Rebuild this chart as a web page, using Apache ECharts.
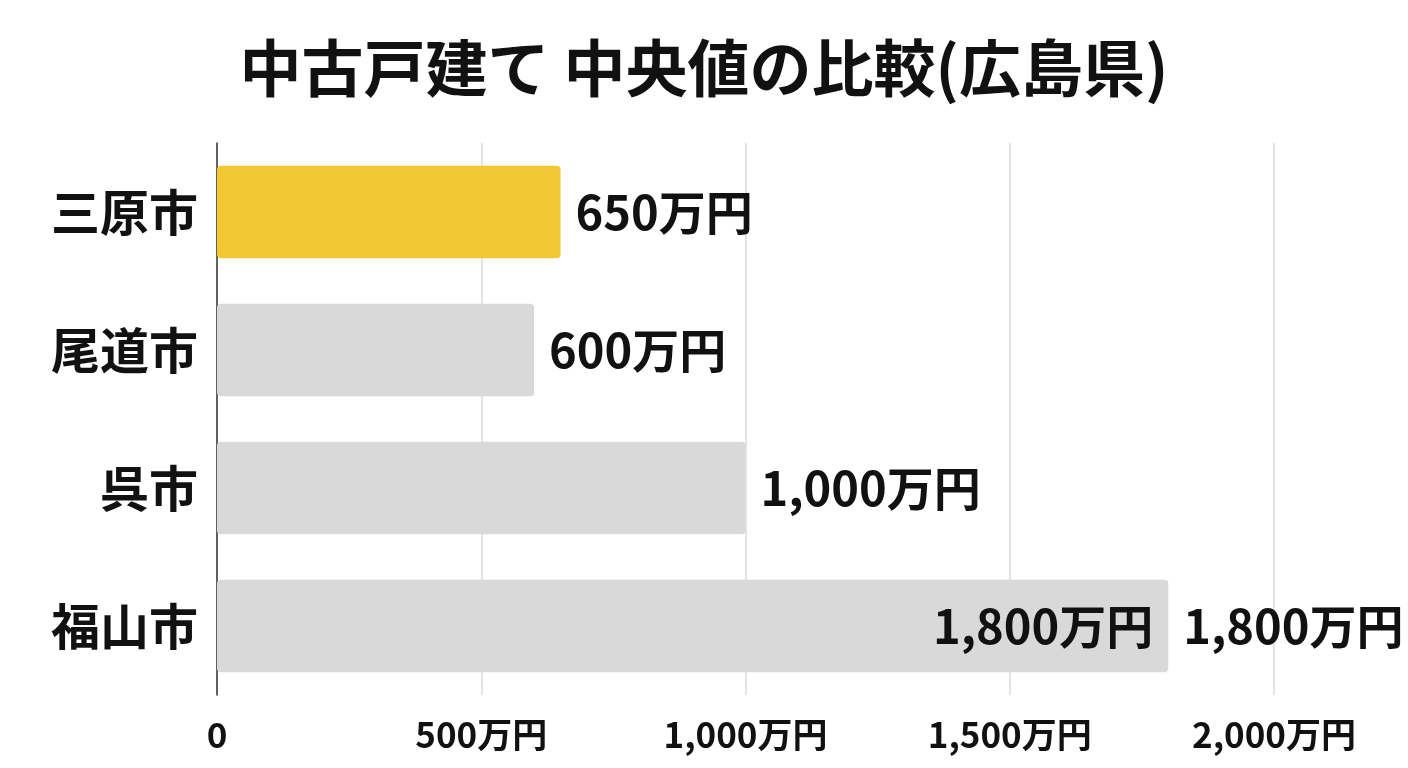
<!DOCTYPE html>
<html>
<head>
<meta charset="utf-8">
<script src="https://cdn.jsdelivr.net/npm/echarts@6/dist/echarts.min.js"></script>
<style>
  html, body { margin: 0; padding: 0; background: #fff; }
  #chart { width: 1408px; height: 768px; }
</style>
</head>
<body>
<div id="chart"></div>
<script>
// データ（単位：万円）
const cities = ['三原市', '尾道市', '呉市', '福山市'];
const medians = [650, 600, 1000, 1800];
const highlightCity = '三原市';
const innerLabelCities = ['福山市'];
const tickValues = [0, 500, 1000, 1500, 2000];

const FONT = '"Noto Sans CJK JP", "Noto Sans", sans-serif';

function yen(v) {
  return v === 0 ? '0' : v.toLocaleString('en-US') + '万円';
}

const chart = echarts.init(document.getElementById('chart'));

const option = {
  backgroundColor: '#ffffff',
  animation: false,
  title: {
    text: '中古戸建て 中央値の比較(広島県)',
    left: 'center',
    top: 32,
    textStyle: { fontFamily: FONT, fontSize: 62, fontWeight: 'bold', color: '#111' }
  },
  grid: { left: 217, right: 134, top: 143, bottom: 73 },
  xAxis: {
    type: 'value',
    min: tickValues[0],
    max: tickValues[tickValues.length - 1],
    interval: tickValues[1] - tickValues[0],
    axisLine: { show: false },
    axisTick: { show: false },
    splitLine: { show: true, lineStyle: { color: '#dcdcdc', width: 1.5 } },
    axisLabel: {
      formatter: yen,
      margin: 22,
      fontFamily: FONT,
      fontSize: 35,
      fontWeight: 'bold',
      color: '#111'
    }
  },
  yAxis: {
    type: 'category',
    data: cities,
    inverse: true,
    axisLine: { show: true, lineStyle: { color: '#333', width: 1.5 } },
    axisTick: { show: false },
    axisLabel: {
      margin: 19,
      fontFamily: FONT,
      fontSize: 49,
      fontWeight: 'bold',
      color: '#111'
    }
  },
  series: [
    {
      type: 'bar',
      barWidth: '67%',
      data: medians.map((v, i) => ({
        value: v,
        itemStyle: { color: cities[i] === highlightCity ? '#F2C832' : '#D9D9D9' }
      })),
      itemStyle: { borderRadius: 4 },
      label: {
        show: true,
        position: 'right',
        distance: 15,
        formatter: p => yen(p.value),
        fontFamily: FONT,
        fontSize: 47,
        fontWeight: 'bold',
        color: '#111'
      }
    },
    {
      type: 'bar',
      barWidth: '67%',
      barGap: '-100%',
      silent: true,
      itemStyle: { color: 'rgba(0,0,0,0)' },
      data: medians.map((v, i) => ({
        value: v,
        label: { show: innerLabelCities.includes(cities[i]) }
      })),
      label: {
        show: false,
        position: 'insideRight',
        distance: 15,
        formatter: p => yen(p.value),
        fontFamily: FONT,
        fontSize: 47,
        fontWeight: 'bold',
        color: '#111'
      }
    }
  ]
};

chart.setOption(option);
</script>
</body>
</html>
